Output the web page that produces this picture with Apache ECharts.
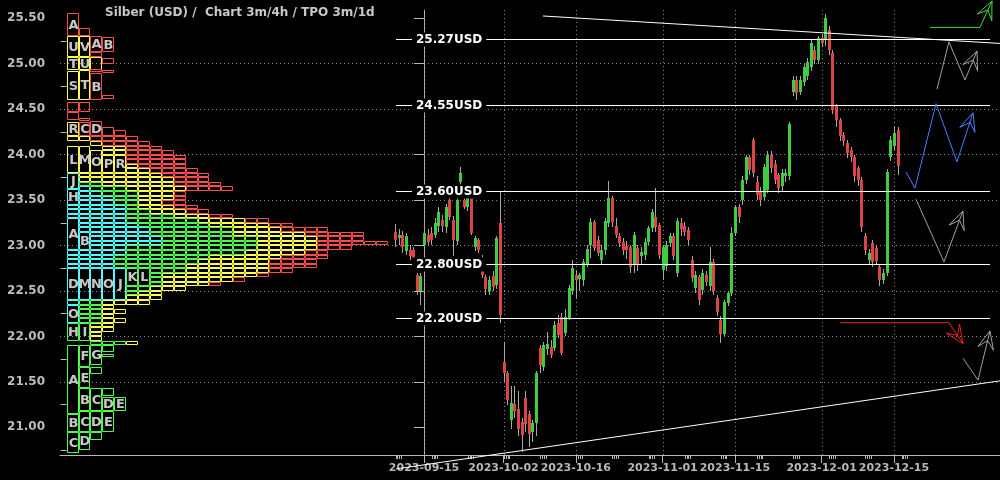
<!DOCTYPE html>
<html><head><meta charset="utf-8">
<script src="https://cdn.jsdelivr.net/npm/echarts@6/dist/echarts.min.js"></script>
<style>html,body{margin:0;padding:0;background:#000}#c{width:1000px;height:480px}</style>
</head><body><div id="c"></div>
<script>
// ---------------- data ----------------
const chartTitle = 'Silber (USD) /  Chart 3m/4h / TPO 3m/1d';
const priceTicks = [21.0, 21.5, 22.0, 22.5, 23.0, 23.5, 24.0, 24.5, 25.0, 25.5];
const priceMinorTicks = [20.75, 21.25, 21.75, 22.25, 22.75, 23.25, 23.75, 24.25, 24.75, 25.25];
const dateLabels = ['2023-09-15', '2023-10-02', '2023-10-16', '2023-11-01', '2023-11-15', '2023-12-01', '2023-12-15'];
const dateLabelDays = [0, 11, 21, 33, 43, 55, 65];          // trading-day index from 2023-09-15
const weekStartDays = [-4, 1, 6, 11, 16, 21, 26, 31, 36, 41, 46, 51, 56, 61, 66];
const firstCandleDay = -4;                                   // 4h candles, two per trading day shown
const candlesPerDay = 2;
// [open, close, low, high]
const ohlc = [
[23.15,23.06,22.98,23.24],[23.08,23.12,23.00,23.18],[23.12,22.98,22.92,23.16],[22.94,23.10,22.90,23.14],
[22.95,22.88,22.84,23.00],[22.95,22.86,22.82,22.98],[22.68,22.50,22.46,22.70],[22.50,22.66,22.35,22.70],
[23.00,23.14,22.96,23.28],[23.12,23.04,23.00,23.18],[23.14,23.06,23.00,23.20],[23.12,23.25,23.08,23.30],
[23.22,23.37,23.15,23.42],[23.28,23.22,23.15,23.34],[23.20,23.42,23.14,23.46],[23.50,23.31,23.28,23.52],
[23.28,23.06,22.88,23.32],[23.05,23.50,23.00,23.52],[23.70,23.80,23.66,23.86],[23.50,23.42,23.40,23.52],
[23.42,23.52,23.38,23.54],[23.52,23.14,23.12,23.54],[22.98,23.08,22.94,23.10],[23.06,22.95,22.92,23.08],
[22.84,22.67,22.64,22.90],[22.65,22.52,22.46,22.68],[22.50,22.62,22.46,22.66],[22.66,22.54,22.50,22.72],
[22.56,23.08,22.52,23.10],[23.25,22.24,22.15,23.59],[21.72,21.60,21.50,21.94],[21.60,21.30,21.25,21.62],
[21.08,21.27,20.98,21.45],[21.26,21.18,21.10,21.45],[21.20,20.98,20.90,21.40],[21.06,20.92,20.73,21.10],
[21.32,21.04,20.95,21.40],[21.15,20.93,20.78,21.18],[20.95,21.05,20.84,21.08],[21.05,21.60,20.90,21.62],
[21.87,21.68,21.60,21.90],[21.66,21.90,21.62,21.94],[21.86,21.92,21.80,22.05],[21.88,21.80,21.76,21.96],
[21.87,22.12,21.84,22.17],[22.15,22.02,21.98,22.24],[22.21,21.82,21.80,22.26],[22.04,22.21,22.00,22.30],
[22.20,22.53,22.18,22.56],[22.50,22.75,22.45,22.84],[22.68,22.62,22.42,22.72],[22.63,22.68,22.50,22.70],
[22.62,22.82,22.55,22.85],[22.80,22.96,22.76,23.00],[23.00,23.26,22.86,23.30],[23.26,22.97,22.94,23.28],
[23.06,22.92,22.88,23.10],[22.84,22.95,22.80,23.00],[22.95,23.27,22.90,23.30],[23.25,23.52,23.20,23.71],
[23.52,23.26,23.20,23.55],[23.22,23.12,23.08,23.30],[23.10,23.03,22.98,23.14],[23.04,22.95,22.90,23.08],
[22.99,22.95,22.85,23.05],[22.98,22.76,22.70,23.00],[22.79,23.12,22.70,23.15],[22.97,22.79,22.72,23.00],
[22.88,22.93,22.80,22.98],[22.90,23.04,22.84,23.08],[23.04,23.19,23.00,23.22],[23.19,23.37,23.15,23.40],
[23.31,23.20,23.15,23.63],[23.23,22.90,22.85,23.25],[22.73,22.98,22.62,23.00],[22.77,23.01,22.72,23.05],
[23.03,23.10,22.98,23.14],[23.10,22.88,22.84,23.14],[22.70,23.27,22.65,23.30],[23.25,23.18,23.10,23.30],
[23.22,23.15,23.10,23.26],[23.17,23.06,23.00,23.20],[22.84,22.64,22.60,22.88],[22.53,22.68,22.48,22.72],
[22.65,22.40,22.35,22.68],[22.51,22.70,22.45,22.74],[22.68,22.60,22.55,22.72],[22.55,22.82,22.50,22.98],
[22.82,22.50,22.46,22.85],[22.42,22.27,22.22,22.45],[22.18,22.03,21.93,22.22],[22.03,22.38,22.00,22.40],
[22.37,22.48,22.33,22.50],[22.48,23.14,22.44,23.20],[23.14,23.42,23.10,23.45],[23.42,23.31,23.25,23.46],
[23.50,23.72,23.45,23.76],[23.72,23.97,23.68,24.00],[23.97,23.83,23.78,24.00],[24.16,23.80,23.75,24.18],
[23.70,23.56,23.50,23.76],[23.60,23.50,23.44,23.64],[23.53,23.86,23.50,23.90],[23.61,24.00,23.58,24.04],
[24.00,23.85,23.80,24.04],[23.90,23.72,23.68,23.94],[23.78,23.63,23.58,23.80],[23.65,23.80,23.60,23.84],
[23.76,23.80,23.70,23.84],[23.77,24.34,23.72,24.36],[24.69,24.82,24.64,24.86],[24.82,24.68,24.60,24.86],
[24.69,24.82,24.66,24.86],[24.80,24.96,24.76,25.00],[24.86,25.02,24.82,25.06],[24.96,25.23,24.92,25.26],
[25.15,25.04,25.00,25.20],[25.04,25.28,25.00,25.30],[25.28,25.23,25.18,25.32],[25.26,25.50,25.20,25.55],
[25.37,25.15,25.10,25.42],[25.12,24.49,24.45,25.15],[24.53,24.38,24.30,24.56],[24.38,24.20,24.15,24.40],
[24.22,24.15,24.10,24.25],[24.13,24.02,23.96,24.16],[24.05,23.97,23.92,24.08],[23.97,23.76,23.70,24.00],
[23.85,23.72,23.66,23.88],[23.72,23.20,23.15,23.75],[23.10,22.95,22.90,23.14],[22.84,22.92,22.78,22.96],
[23.03,22.82,22.76,23.06],[22.97,22.83,22.80,23.00],[22.76,22.62,22.55,22.80],[22.62,22.70,22.58,22.74],
[22.70,23.81,22.66,23.84],[23.97,24.16,23.93,24.20],[24.09,24.24,24.05,24.30],[24.27,23.88,23.78,24.30]
];
const levels = [25.27, 24.55, 23.60, 22.80, 22.20];
const levelSpanDays = [-3.87, 78.28];
const trendUpper = [[16.46, 25.525], [79.67, 25.223]];
const trendLower = [[-3.87, 20.542], [79.67, 21.511]];
const projGreen = [[70.0, 25.40], [76.9, 25.40], [78.56, 25.69]];
const projGreyUpper = [[70.95, 24.72], [72.61, 25.24], [74.83, 24.82], [76.49, 25.14]];
const projBlue = [[66.67, 23.81], [67.91, 23.63], [70.82, 24.56], [73.72, 23.92], [75.93, 24.46]];
const projGreyMiddle = [[68.05, 23.51], [71.92, 22.82], [74.55, 23.38]];
const projRed = [[57.54, 22.15], [72.61, 22.15], [74.55, 21.92]];
const projGreyLower = [[74.55, 21.76], [76.63, 21.52], [78.28, 22.06]];
// TPO rows: [low price, first column, cyan count, green count, yellow count, red count]; row height = tpoStep
const tpoStep = 0.05;
const tpoRows = [
[24.15,0,0,0,2,4],[24.10,2,0,0,1,4],[24.05,3,0,0,2,3],[24.00,3,0,0,2,4],[23.95,5,0,0,0,5],
[23.90,5,0,0,0,5],[23.85,5,0,0,1,4],[23.80,5,0,0,2,4],[23.75,1,0,0,7,4],[23.70,1,0,0,8,3],
[23.65,1,0,2,6,4],[23.60,1,1,3,5,4],[23.55,1,2,3,3,1],[23.50,1,3,2,3,1],[23.45,1,3,2,2,2],
[23.40,0,5,1,3,2],[23.35,0,5,2,3,2],[23.30,0,5,4,3,2],[23.25,1,4,6,4,2],[23.20,1,5,6,5,2],
[23.15,1,6,7,4,4],[23.10,2,5,7,6,5],[23.05,2,6,8,5,4],[23.00,2,6,8,5,6],[22.95,2,3,11,5,3],
[22.90,0,5,10,5,2],[22.85,0,4,8,6,4],[22.80,0,4,7,6,4],[22.75,0,4,6,7,4],[22.70,7,0,3,7,2],
[22.65,7,0,1,8,1],[22.60,7,0,1,6,1],[22.55,7,0,1,4,1],[22.50,5,0,2,3,0],[22.45,5,0,1,2,0],
[22.40,5,0,0,3,0],[22.35,0,1,2,4,0],[22.30,1,0,2,1,0],[22.25,1,0,2,2,0],[22.20,1,0,2,1,0],
[22.15,1,0,2,2,0],[22.10,2,0,0,2,0],[22.05,2,0,0,2,0],[22.00,2,0,0,1,0],[21.95,2,0,0,1,0],
[21.90,2,0,3,1,0]
];
// TPO blocks: [column, low, high, colour key, letter]
const tpoBlocks = [
[0,25.31,25.56,'r','A'],[0,25.07,25.31,'y','U'],[0,24.93,25.07,'y','T'],[0,24.60,24.92,'y','S'],
[1,25.31,25.39,'r',''],[1,25.07,25.30,'y','V'],[1,24.93,25.07,'y','U'],[1,24.60,24.93,'y','T'],
[2,25.13,25.31,'r','A'],[2,25.07,25.13,'r',''],[2,24.93,25.07,'y',''],[2,24.91,24.94,'r',''],[2,24.60,24.90,'r','B'],
[3,25.13,25.29,'r','B'],[3,25.00,25.06,'r',''],[3,24.90,24.93,'r',''],[3,24.61,24.66,'r',''],
[0,24.47,24.58,'r',''],[0,24.38,24.47,'r',''],[1,24.47,24.58,'r',''],[1,24.37,24.40,'r',''],
[0,24.20,24.36,'y','R'],[1,24.20,24.36,'r','C'],[2,24.20,24.37,'r','D'],[3,24.20,24.30,'r',''],[4,24.20,24.27,'r',''],
[0,23.80,24.10,'y','L'],[1,23.80,24.10,'y','M'],[2,23.80,24.05,'y','O'],[3,23.80,24.00,'y','P'],[4,23.80,24.00,'y','R'],
[0,23.62,23.80,'c','J'],[0,23.45,23.62,'c','H'],[0,22.95,23.30,'c','A'],[1,22.95,23.15,'c','B'],
[0,22.40,22.75,'c','D'],[1,22.40,22.75,'c','M'],[2,22.40,22.75,'c','N'],[3,22.40,22.75,'c','O'],[4,22.40,22.75,'c','J'],
[5,22.55,22.75,'g','K'],[6,22.55,22.75,'g','L'],
[0,22.15,22.34,'c','O'],[0,21.95,22.15,'g','H'],[1,21.95,22.15,'g','I'],
[0,21.15,21.90,'g','A'],[1,21.66,21.90,'g','F'],[2,21.68,21.90,'g','G'],[3,21.83,21.90,'g',''],[3,21.77,21.81,'g',''],
[2,21.59,21.66,'g',''],[1,21.43,21.66,'g','E'],
[1,21.18,21.43,'g','B'],[2,21.18,21.43,'g','C'],[3,21.34,21.43,'g',''],[3,21.18,21.33,'g','D'],[4,21.18,21.33,'g','E'],
[0,20.95,21.15,'g','B'],[1,20.95,21.18,'g','C'],[2,20.95,21.18,'g','D'],[3,20.95,21.18,'g','E'],
[0,20.72,20.95,'g','C'],[1,20.75,20.95,'g','D'],[2,20.86,20.95,'g','']
];

// ---------------- build ----------------
const tpoColor = { c: '#4dffff', g: '#4dff4d', y: '#ffff4d', r: '#ff4d4d' };
const tpoRects = [];
tpoRows.forEach(([lo, start, nc, ng, ny, nr]) => {
  let col = start;
  [['c', nc], ['g', ng], ['y', ny], ['r', nr]].forEach(([k, n]) => {
    for (let i = 0; i < n; i++) { tpoRects.push([col, lo, col + 1, lo + tpoStep, k, '']); col++; }
  });
});
tpoBlocks.forEach(([col, lo, hi, k, letter]) => tpoRects.push([col, lo, col + 1, hi, k, letter]));

const candleData = ohlc.map((v, i) => [firstCandleDay + i / candlesPerDay, v[0], v[1], v[2], v[3]]);
const weekTicks = [];
weekStartDays.forEach(m => [0.1, 0.35, 0.6, 0.85].forEach(o => weekTicks.push(m + o)));
const projections = [
  [projGreen, '#44dd44'], [projGreyUpper, '#a0a0a0'], [projBlue, '#4a7dff'],
  [projGreyMiddle, '#a0a0a0'], [projRed, '#ee2020'], [projGreyLower, '#a0a0a0']
];

const FONT = '"DejaVu Sans", sans-serif';
const AXIS_COL = '#b8b8b8';
const GRID_COL = '#8a8a8a';
const yMin = 20.695, yMax = 25.591;
const dayMin = -50.35, dayMax = 79.67;
const colMin = -0.563, colMax = 78.43;
const crisp = v => Math.round(v) + 0.5;

const chart = echarts.init(document.getElementById('c'), null, { renderer: 'canvas' });
chart.setOption({
  backgroundColor: '#000',
  animation: false,
  title: { text: chartTitle, left: 100, top: 2,
    textStyle: { color: '#c8c8c8', fontSize: 12, fontWeight: 'bold', fontFamily: FONT } },
  grid: { left: 60, right: 0, top: 10, bottom: 25, containLabel: false },
  xAxis: [
    { type: 'value', min: dayMin, max: dayMax, position: 'bottom',
      axisLine: { show: true, lineStyle: { color: AXIS_COL, width: 1 } },
      axisTick: { show: true, length: 8, customValues: dateLabelDays, lineStyle: { color: AXIS_COL } },
      axisLabel: { show: true, customValues: dateLabelDays, margin: 8, color: '#b8b8b8',
        showMinLabel: true, showMaxLabel: true,
        fontSize: 11, fontWeight: 'bold', fontFamily: FONT,
        formatter: v => { const i = dateLabelDays.indexOf(Math.round(v)); return i >= 0 ? dateLabels[i] : ''; } },
      splitLine: { show: false } },
    { type: 'value', min: colMin, max: colMax, show: false },
    { type: 'value', min: dayMin, max: dayMax, position: 'bottom',
      axisLine: { show: false }, axisLabel: { show: false }, splitLine: { show: false },
      axisTick: { show: true, length: 4, customValues: weekTicks, lineStyle: { color: AXIS_COL } } }
  ],
  yAxis: [
    { type: 'value', min: yMin, max: yMax, position: 'left',
      axisLine: { show: true, lineStyle: { color: AXIS_COL, width: 1 } },
      axisTick: { show: true, length: 10, customValues: priceTicks, lineStyle: { color: AXIS_COL } },
      axisLabel: { show: true, customValues: priceTicks, margin: 15, color: '#bdbdbd',
        fontSize: 12, fontWeight: 'bold', fontFamily: FONT, formatter: v => v.toFixed(2) },
      splitLine: { show: true, showMinLine: false, showMaxLine: false,
        lineStyle: { color: GRID_COL, type: [1, 3], width: 1 } } },
    { type: 'value', min: yMin, max: yMax, position: 'left',
      axisLine: { show: false }, axisLabel: { show: false }, splitLine: { show: false },
      axisTick: { show: true, length: 6, customValues: priceMinorTicks, lineStyle: { color: AXIS_COL } } }
  ],
  series: [
    { type: 'custom', name: 'dateGrid', xAxisIndex: 0, yAxisIndex: 0, silent: true,
      data: dateLabelDays.map(d => [d, yMin, yMax]), encode: { x: 0, y: [1, 2] },
      renderItem: (params, api) => {
        const a = api.coord([api.value(0), api.value(2)]), b = api.coord([api.value(0), api.value(1)]);
        const x = crisp(a[0]);
        return { type: 'line', shape: { x1: x, y1: a[1], x2: x, y2: b[1] },
          style: { stroke: GRID_COL, lineWidth: 1, lineDash: [1, 3] } };
      } },
    { type: 'custom', name: 'tpo', xAxisIndex: 1, yAxisIndex: 0, silent: true,
      data: tpoRects.map(r => [r[0], r[1], r[2], r[3]]),
      encode: { x: [0, 2], y: [1, 3] },
      renderItem: (params, api) => {
        const r = tpoRects[params.dataIndex];
        const a = api.coord([r[0], r[3]]), b = api.coord([r[2], r[1]]);
        const x0 = crisp(a[0]), y0 = crisp(a[1]), x1 = crisp(b[0]) - 1, y1 = crisp(b[1]) - 1;
        const children = [{ type: 'rect', shape: { x: x0, y: y0, width: Math.max(1, x1 - x0), height: Math.max(1, y1 - y0) },
          style: { stroke: tpoColor[r[4]], fill: null, lineWidth: 1 } }];
        if (r[5]) children.push({ type: 'text', style: { text: r[5], x: (x0 + x1) / 2 + 0.5, y: (y0 + y1) / 2 + 1,
          fill: '#c8c8c8', font: 'bold 13px ' + FONT, align: 'center', verticalAlign: 'middle' } });
        return { type: 'group', children };
      } },
    { type: 'custom', name: 'candles', xAxisIndex: 0, yAxisIndex: 0, silent: true,
      data: candleData, encode: { x: 0, y: [1, 2, 3, 4] },
      renderItem: (params, api) => {
        const d = api.value(0), o = api.value(1), c = api.value(2), l = api.value(3), h = api.value(4);
        const po = api.coord([d, o]), pc = api.coord([d, c]), pl = api.coord([d, l]), ph = api.coord([d, h]);
        const x = Math.round(po[0]);
        const top = Math.round(Math.min(po[1], pc[1])), bot = Math.round(Math.max(po[1], pc[1]));
        return { type: 'group', children: [
          { type: 'line', shape: { x1: x + 0.5, y1: Math.round(ph[1]), x2: x + 0.5, y2: Math.round(pl[1]) },
            style: { stroke: '#a8a8a8', lineWidth: 1 } },
          { type: 'rect', shape: { x: x - 1, y: top, width: 3, height: Math.max(1, bot - top) },
            style: { fill: c >= o ? '#3fcc3f' : '#dd4444' } }
        ] };
      } },
    { type: 'line', name: 'trendUpper', xAxisIndex: 0, yAxisIndex: 0, data: trendUpper, clip: false,
      symbol: 'none', silent: true, lineStyle: { color: '#fff', width: 1 } },
    { type: 'line', name: 'trendLower', xAxisIndex: 0, yAxisIndex: 0, data: trendLower, clip: false,
      symbol: 'none', silent: true, lineStyle: { color: '#fff', width: 1 } },
    { type: 'custom', name: 'levels', xAxisIndex: 0, yAxisIndex: 0, silent: true,
      data: levels.map(p => [levelSpanDays[0], p, levelSpanDays[1]]), encode: { x: [0, 2], y: 1 },
      renderItem: (params, api) => {
        const p = api.value(1);
        const a = api.coord([api.value(0), p]), b = api.coord([api.value(2), p]);
        const y = crisp(a[1]);
        return { type: 'group', children: [
          { type: 'line', shape: { x1: Math.round(a[0]), y1: y, x2: Math.round(b[0]), y2: y },
            style: { stroke: '#ffffff', lineWidth: 1 } },
          { type: 'text', style: { text: p.toFixed(2) + 'USD', x: Math.round(a[0]) + 16, y: y,
            fill: '#ffffff', font: 'bold 12px ' + FONT, align: 'left', verticalAlign: 'middle',
            backgroundColor: '#000', padding: [1, 4] } }
        ] };
      } },
    { type: 'custom', name: 'projections', xAxisIndex: 0, yAxisIndex: 0, silent: true, clip: false,
      data: projections.map(([path]) => path[path.length - 1]), encode: { x: 0, y: 1 },
      renderItem: (params, api) => {
        const [path, color] = projections[params.dataIndex];
        const pts = path.map(p => api.coord(p));
        const tip = pts[pts.length - 1], prev = pts[pts.length - 2];
        let dx = tip[0] - prev[0], dy = tip[1] - prev[1];
        const len = Math.hypot(dx, dy) || 1; dx /= len; dy /= len;
        const L = 18, W = 8;
        const bx = tip[0] - dx * L, by = tip[1] - dy * L;
        const wingA = [bx - dy * W, by + dx * W], wingB = [bx + dy * W, by - dx * W];
        const notch = [tip[0] - dx * L * 0.55, tip[1] - dy * L * 0.55];
        return { type: 'group', children: [
          { type: 'polyline', shape: { points: pts }, style: { stroke: color, lineWidth: 1, fill: null } },
          { type: 'polygon', shape: { points: [wingA, tip, wingB, notch] },
            style: { stroke: color, lineWidth: 1, fill: null } }
        ] };
      } }
  ]
});
</script></body></html>
